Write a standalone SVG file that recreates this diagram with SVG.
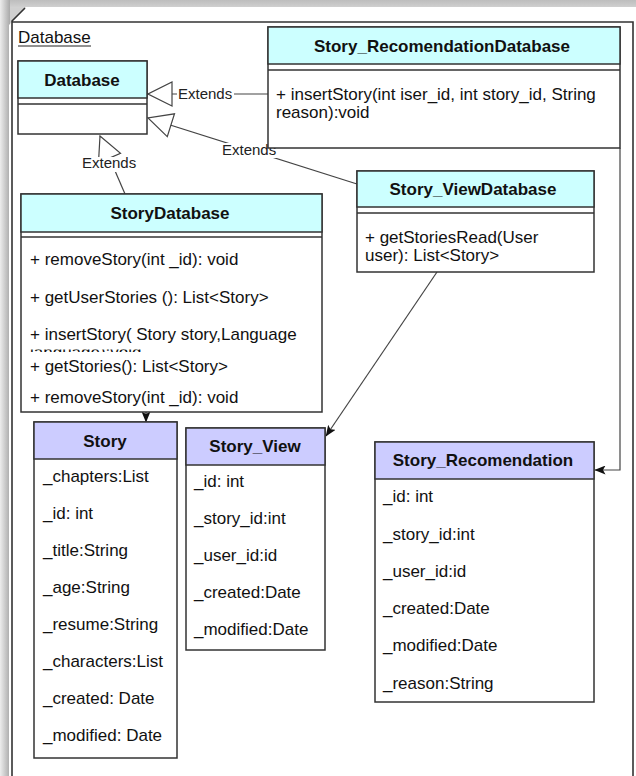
<svg xmlns="http://www.w3.org/2000/svg" width="636" height="776" viewBox="0 0 636 776">
<style>
  text { font-family: "Liberation Sans", Arial, Helvetica, sans-serif; fill: #111; }
  .t { font-size: 17px; font-weight: bold; text-anchor: middle; }
  .a { font-size: 17px; }
  .lbl { font-size: 15px; fill: #222; }
  .box { fill: #fff; stroke: #333; stroke-width: 1.5; }
  .hc { fill: #ccffff; stroke: #333; stroke-width: 1.5; }
  .hl { fill: #ccccff; stroke: #333; stroke-width: 1.5; }
  .sep { stroke: #333; stroke-width: 1.5; }
  .con { fill: none; stroke: #444; stroke-width: 1.2; }
  .lbg { fill: #fff; }
</style>
<defs>
  <linearGradient id="gTop" x1="0" y1="0" x2="0" y2="1">
    <stop offset="0" stop-color="#bdbdbd"/>
    <stop offset="1" stop-color="#d2d2d2"/>
  </linearGradient>
  <linearGradient id="gLeft" x1="0" y1="0" x2="1" y2="0">
    <stop offset="0" stop-color="#ededed"/>
    <stop offset="1" stop-color="#a9a9a9"/>
  </linearGradient>
  <marker id="gen" viewBox="0 0 26 26" markerWidth="26" markerHeight="26" refX="25" refY="13" orient="auto" markerUnits="userSpaceOnUse">
    <path d="M1,1 L25,13 L1,25 Z" fill="#fff" stroke="#444" stroke-width="1.2"/>
  </marker>
  <marker id="arr" viewBox="0 0 11 9" markerWidth="11" markerHeight="9" refX="10.5" refY="4.5" orient="auto" markerUnits="userSpaceOnUse">
    <path d="M0,0 L11,4.5 L0,9 L2.5,4.5 Z" fill="#111"/>
  </marker>
  <clipPath id="clipIns">
    <rect x="22" y="349.5" width="299" height="2.5"/>
  </clipPath>
</defs>

<!-- page background / shadow -->
<rect x="0" y="0" width="636" height="776" fill="#d0d0d0"/>
<rect x="0" y="0" width="636" height="8" fill="url(#gTop)"/>
<rect x="0" y="0" width="10" height="776" fill="url(#gLeft)"/>
<polygon points="9,776 9,25 26,7 636,7 636,776" fill="#fff"/>
<path d="M25,8 L12,21 L12,776 M12,22 L633,22 L633,776" fill="none" stroke="#333" stroke-width="1.6"/>
<text x="18" y="43" class="a">Database</text>
<line x1="18" y1="46" x2="91" y2="46" stroke="#222" stroke-width="1"/>

<g id="connectors">
  <path class="con" d="M268,94 L148,94" marker-end="url(#gen)"/>
  <path class="con" d="M357,184 L148,118" marker-end="url(#gen)"/>
  <path class="con" d="M125,194 L100,136" marker-end="url(#gen)"/>
  <path class="con" d="M146,412 L146,422" marker-end="url(#arr)"/>
  <path class="con" d="M437,272 L326,436" marker-end="url(#arr)"/>
  <path class="con" d="M620,148 L620,470 L595,470" marker-end="url(#arr)"/>
  <rect class="lbg" x="177" y="87" width="57" height="15"/>
  <text x="178" y="99" class="lbl">Extends</text>
  <rect class="lbg" x="221" y="143" width="58" height="15"/>
  <text x="222" y="155" class="lbl">Extends</text>
  <rect class="lbg" x="81" y="157" width="57" height="15"/>
  <text x="82" y="168" class="lbl">Extends</text>
</g>

<g id="Database">
  <rect class="box" x="18" y="61" width="129" height="73"/>
  <rect class="hc" x="18" y="61" width="129" height="37"/>
  <line class="sep" x1="18" y1="104" x2="147" y2="104"/>
  <text x="82" y="86" class="t">Database</text>
</g>

<g id="Story_RecomendationDatabase">
  <rect class="box" x="268" y="27" width="352" height="121"/>
  <rect class="hc" x="268" y="27" width="352" height="37"/>
  <line class="sep" x1="268" y1="70" x2="620" y2="70"/>
  <text x="442" y="52" class="t">Story_RecomendationDatabase</text>
  <text x="276" y="100" class="a">+ insertStory(int iser_id, int story_id, String</text>
  <text x="276" y="118" class="a">reason):void</text>
</g>

<g id="Story_ViewDatabase">
  <rect class="box" x="357" y="171" width="237" height="101"/>
  <rect class="hc" x="357" y="171" width="237" height="36"/>
  <line class="sep" x1="357" y1="213" x2="594" y2="213"/>
  <text x="473" y="195" class="t">Story_ViewDatabase</text>
  <text x="365" y="243" class="a">+ getStoriesRead(User</text>
  <text x="365" y="261" class="a">user): List&lt;Story&gt;</text>
</g>

<g id="StoryDatabase">
  <rect class="box" x="21" y="194" width="301" height="218"/>
  <rect class="hc" x="21" y="194" width="301" height="38"/>
  <line class="sep" x1="21" y1="237" x2="322" y2="237"/>
  <text x="170" y="219" class="t">StoryDatabase</text>
  <text x="30" y="265" class="a">+ removeStory(int _id): void</text>
  <text x="30" y="303" class="a">+ getUserStories (): List&lt;Story&gt;</text>
  <text x="30" y="340" class="a">+ insertStory( Story story,Language</text>
  <text x="30" y="358" class="a" clip-path="url(#clipIns)">language):void</text>
  <text x="30" y="372" class="a">+ getStories(): List&lt;Story&gt;</text>
  <text x="30" y="403" class="a">+ removeStory(int _id): void</text>
</g>

<g id="Story">
  <rect class="box" x="34" y="422" width="143" height="336"/>
  <rect class="hl" x="34" y="422" width="143" height="37"/>
  <text x="105" y="447" class="t">Story</text>
  <text x="43" y="482" class="a">_chapters:List</text>
  <text x="43" y="519" class="a">_id: int</text>
  <text x="43" y="556" class="a">_title:String</text>
  <text x="43" y="593" class="a">_age:String</text>
  <text x="43" y="630" class="a">_resume:String</text>
  <text x="43" y="667" class="a">_characters:List</text>
  <text x="43" y="704" class="a">_created: Date</text>
  <text x="43" y="741" class="a">_modified: Date</text>
</g>

<g id="Story_View">
  <rect class="box" x="186" y="428" width="139" height="222"/>
  <rect class="hl" x="186" y="428" width="139" height="37"/>
  <text x="255" y="452" class="t">Story_View</text>
  <text x="194" y="487" class="a">_id: int</text>
  <text x="194" y="524" class="a">_story_id:int</text>
  <text x="194" y="561" class="a">_user_id:id</text>
  <text x="194" y="598" class="a">_created:Date</text>
  <text x="194" y="635" class="a">_modified:Date</text>
</g>

<g id="Story_Recomendation">
  <rect class="box" x="375" y="442" width="219" height="260"/>
  <rect class="hl" x="375" y="442" width="219" height="37"/>
  <text x="483" y="466" class="t">Story_Recomendation</text>
  <text x="383" y="502" class="a">_id: int</text>
  <text x="383" y="540" class="a">_story_id:int</text>
  <text x="383" y="577" class="a">_user_id:id</text>
  <text x="383" y="614" class="a">_created:Date</text>
  <text x="383" y="651" class="a">_modified:Date</text>
  <text x="383" y="689" class="a">_reason:String</text>
</g>
</svg>
